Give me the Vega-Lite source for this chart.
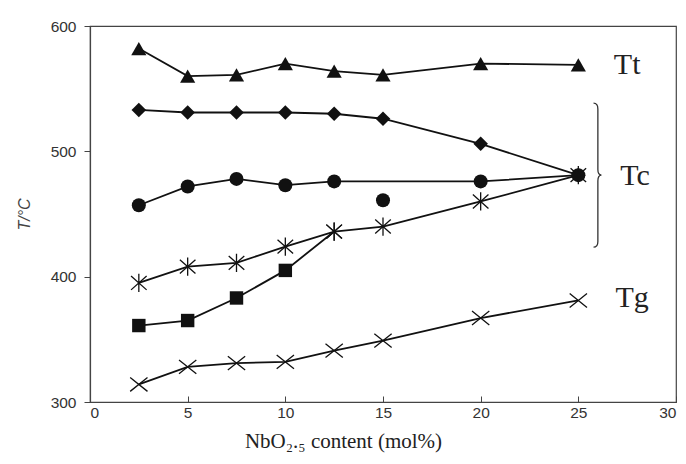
{
  "$schema": "https://vega.github.io/schema/vega-lite/v6.json",
  "width": 586,
  "height": 376,
  "autosize": "none",
  "padding": {"left": 90, "top": 26, "right": 10, "bottom": 62},
  "background": "white",
  "config": {
    "view": {"stroke": "#444", "strokeWidth": 1.2},
    "axis": {"grid": false, "domainColor": "#444", "tickColor": "#444", "labelFont": "Liberation Sans", "labelFontSize": 15.5, "labelColor": "#333", "domainWidth": 1.2}
  },
  "resolve": {"scale": {"shape": "independent", "size": "independent"}},
  "datasets": {
    "pts": [
      {"series": "Tt", "symbol": "triangle", "x": 2.5, "y": 582},
      {"series": "Tt", "symbol": "triangle", "x": 5, "y": 560},
      {"series": "Tt", "symbol": "triangle", "x": 7.5, "y": 561},
      {"series": "Tt", "symbol": "triangle", "x": 10, "y": 570},
      {"series": "Tt", "symbol": "triangle", "x": 12.5, "y": 564},
      {"series": "Tt", "symbol": "triangle", "x": 15, "y": 561},
      {"series": "Tt", "symbol": "triangle", "x": 20, "y": 570},
      {"series": "Tt", "symbol": "triangle", "x": 25, "y": 569},
      {"series": "Tc diamond", "symbol": "diamond", "x": 2.5, "y": 533},
      {"series": "Tc diamond", "symbol": "diamond", "x": 5, "y": 531},
      {"series": "Tc diamond", "symbol": "diamond", "x": 7.5, "y": 531},
      {"series": "Tc diamond", "symbol": "diamond", "x": 10, "y": 531},
      {"series": "Tc diamond", "symbol": "diamond", "x": 12.5, "y": 530},
      {"series": "Tc diamond", "symbol": "diamond", "x": 15, "y": 526},
      {"series": "Tc diamond", "symbol": "diamond", "x": 20, "y": 506},
      {"series": "Tc diamond", "symbol": "diamond", "x": 25, "y": 481},
      {"series": "Tc circle", "symbol": "circle", "x": 2.5, "y": 457},
      {"series": "Tc circle", "symbol": "circle", "x": 5, "y": 472},
      {"series": "Tc circle", "symbol": "circle", "x": 7.5, "y": 478},
      {"series": "Tc circle", "symbol": "circle", "x": 10, "y": 473},
      {"series": "Tc circle", "symbol": "circle", "x": 12.5, "y": 476},
      {"series": "Tc circle", "symbol": "circle", "x": 20, "y": 476},
      {"series": "Tc circle", "symbol": "circle", "x": 25, "y": 481},
      {"series": "Tc circle single", "symbol": "circle", "x": 15, "y": 461},
      {"series": "Tc star", "symbol": "asterisk", "x": 2.5, "y": 395},
      {"series": "Tc star", "symbol": "asterisk", "x": 5, "y": 408},
      {"series": "Tc star", "symbol": "asterisk", "x": 7.5, "y": 411},
      {"series": "Tc star", "symbol": "asterisk", "x": 10, "y": 424},
      {"series": "Tc star", "symbol": "asterisk", "x": 12.5, "y": 436},
      {"series": "Tc star", "symbol": "asterisk", "x": 15, "y": 440},
      {"series": "Tc star", "symbol": "asterisk", "x": 20, "y": 460},
      {"series": "Tc star", "symbol": "asterisk", "x": 25, "y": 481},
      {"series": "Tc square", "symbol": "square", "x": 2.5, "y": 361},
      {"series": "Tc square", "symbol": "square", "x": 5, "y": 365},
      {"series": "Tc square", "symbol": "square", "x": 7.5, "y": 383},
      {"series": "Tc square", "symbol": "square", "x": 10, "y": 405},
      {"series": "Tc square", "symbol": "asterisk", "x": 12.5, "y": 436},
      {"series": "Tg", "symbol": "x", "x": 2.5, "y": 314},
      {"series": "Tg", "symbol": "x", "x": 5, "y": 328},
      {"series": "Tg", "symbol": "x", "x": 7.5, "y": 331},
      {"series": "Tg", "symbol": "x", "x": 10, "y": 332},
      {"series": "Tg", "symbol": "x", "x": 12.5, "y": 341},
      {"series": "Tg", "symbol": "x", "x": 15, "y": 349},
      {"series": "Tg", "symbol": "x", "x": 20, "y": 367},
      {"series": "Tg", "symbol": "x", "x": 25, "y": 381}
    ],
    "labels": [
      {"label": "Tt", "x": 27.5, "y": 569},
      {"label": "Tc", "x": 27.9, "y": 480},
      {"label": "Tg", "x": 27.75, "y": 383}
    ],
    "brace": [
      {"x": 26.0, "y": 481}
    ]
  },
  "layer": [
    {
      "data": {"name": "pts"},
      "mark": {"type": "line", "color": "#111", "strokeWidth": 1.8},
      "encoding": {
        "x": {"field": "x", "type": "quantitative", "scale": {"domain": [0, 30], "nice": false},
          "axis": {"values": [0, 5, 10, 15, 20, 25, 30], "tickSize": -6, "labelPadding": 9, "title": "NbO₂.₅ content (mol%)", "titleFont": "Liberation Serif", "titleFontSize": 21, "titleFontWeight": "normal", "titleColor": "#222", "titleX": 253, "titleAlign": "center", "titlePadding": 10}},
        "y": {"field": "y", "type": "quantitative", "scale": {"domain": [300, 600], "nice": false},
          "axis": {"values": [300, 400, 500, 600], "tickSize": 6, "labelPadding": 8, "title": "T/°C", "titleFont": "Liberation Sans", "titleFontSize": 16, "titleFontStyle": "italic", "titleFontWeight": "normal", "titleColor": "#444", "titlePadding": 18}},
        "detail": {"field": "series"},
        "order": {"field": "x", "type": "quantitative"}
      }
    },
    {
      "data": {"name": "pts"},
      "transform": [{"filter": {"field": "symbol", "oneOf": ["triangle", "diamond", "circle", "square"]}}],
      "mark": {"type": "point", "filled": true, "color": "#111", "opacity": 1},
      "encoding": {
        "x": {"field": "x", "type": "quantitative"},
        "y": {"field": "y", "type": "quantitative"},
        "shape": {"field": "symbol", "type": "nominal", "legend": null,
          "scale": {"domain": ["triangle", "diamond", "circle", "square"], "range": ["triangle-up", "diamond", "circle", "square"]}},
        "size": {"field": "symbol", "type": "nominal", "legend": null,
          "scale": {"domain": ["triangle", "diamond", "circle", "square"], "range": [230, 180, 190, 210]}}
      }
    },
    {
      "data": {"name": "pts"},
      "transform": [{"filter": {"field": "symbol", "oneOf": ["x", "asterisk"]}}],
      "mark": {"type": "point", "filled": false, "color": "#111", "strokeWidth": 1.3, "opacity": 1, "size": 300},
      "encoding": {
        "x": {"field": "x", "type": "quantitative"},
        "y": {"field": "y", "type": "quantitative"},
        "shape": {"field": "symbol", "type": "nominal", "legend": null,
          "scale": {"domain": ["x", "asterisk"], "range": ["M-1,-0.8L1,0.8M-1,0.8L1,-0.8", "M-0.9,-0.8L0.9,0.8M-0.9,0.8L0.9,-0.8M0,-1.05L0,1.05"]}}
      }
    },
    {
      "data": {"name": "labels"},
      "mark": {"type": "text", "font": "Liberation Serif", "fontSize": 30, "color": "#222", "align": "center", "baseline": "middle"},
      "encoding": {
        "x": {"field": "x", "type": "quantitative"},
        "y": {"field": "y", "type": "quantitative"},
        "text": {"field": "label"}
      }
    },
    {
      "data": {"name": "brace"},
      "mark": {"type": "point", "filled": false, "color": "#333", "strokeWidth": 1.3, "opacity": 1, "size": 20736,
        "shape": "M-0.06,-1Q0,-1,0,-0.92L0,-0.08Q0,0,0.05,0Q0,0,0,0.08L0,0.92Q0,1,-0.06,1"},
      "encoding": {
        "x": {"field": "x", "type": "quantitative"},
        "y": {"field": "y", "type": "quantitative"}
      }
    }
  ]
}
